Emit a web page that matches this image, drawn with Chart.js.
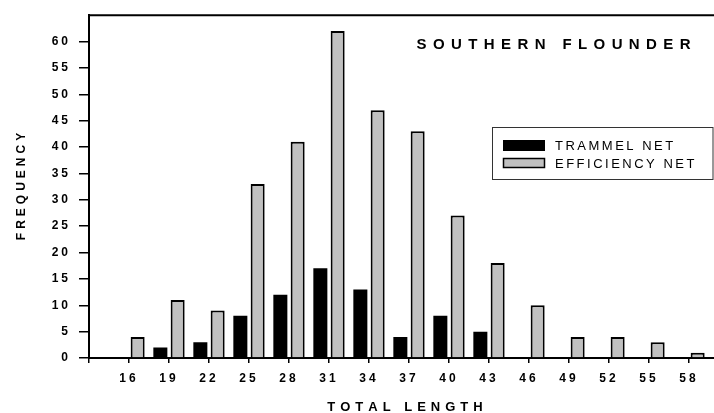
<!DOCTYPE html>
<html>
<head>
<meta charset="utf-8">
<title>Southern Flounder – length frequency</title>
<script src="https://cdn.jsdelivr.net/npm/chart.js@4.4.1/dist/chart.umd.min.js"></script>
<style>
  html, body { margin: 0; padding: 0; background: #fff; }
  #wrap { width: 714px; height: 413px; position: relative; }
</style>
</head>
<body>
<div id="wrap"><canvas id="chart" width="714" height="413"></canvas></div>
<script>
// Length classes (total length) and catch frequency per gear type
const lengthClasses = [16, 19, 22, 25, 28, 31, 34, 37, 40, 43, 46, 49, 52, 55, 58];
const trammelNet    = [null, 2, 3, 8, 12, 17, 13, 4, 8, 5, null, null, null, null, null];
const efficiencyNet = [4, 11, 9, 33, 41, 62, 47, 43, 27, 18, 10, 4, 4, 3, 1];

// Axis ticks
const xTickValues = [13, 16, 19, 22, 25, 28, 31, 34, 37, 40, 43, 46, 49, 52, 55, 58];
const yTickValues = [0, 5, 10, 15, 20, 25, 30, 35, 40, 45, 50, 55, 60];

// Text
const seriesNames = ['TRAMMEL NET', 'EFFICIENCY NET'];
const chartTitle = 'SOUTHERN FLOUNDER';
const xAxisTitle = 'TOTAL LENGTH';
const yAxisTitle = 'FREQUENCY';

const FONT = "'Liberation Sans', Arial, Helvetica, sans-serif";
Chart.defaults.font.family = FONT;
Chart.defaults.color = '#000';

// Draws text with extra space between the characters.
function spacedText(ctx, text, x, y, spacing, align) {
  const chars = [...text];
  const widths = chars.map(ch => ctx.measureText(ch).width);
  const total = widths.reduce((a, b) => a + b, 0) + spacing * (chars.length - 1);
  let cx = align === 'center' ? x - total / 2 : align === 'right' ? x - total : x;
  ctx.textAlign = 'left';
  chars.forEach((ch, i) => { ctx.fillText(ch, cx, y); cx += widths[i] + spacing; });
}

const decorations = {
  id: 'decorations',
  beforeDraw(chart) {
    // tick labels are letter-spaced
    chart.ctx.letterSpacing = '3px';
  },
  afterDraw(chart) {
    const ctx = chart.ctx;
    const a = chart.chartArea;
    ctx.save();
    ctx.letterSpacing = '0px';

    // top frame line of the plot box
    ctx.strokeStyle = '#000';
    ctx.lineWidth = 2;
    ctx.beginPath();
    ctx.moveTo(a.left - 1, a.top);
    ctx.lineTo(a.right, a.top);
    ctx.stroke();

    ctx.fillStyle = '#000';
    ctx.textBaseline = 'alphabetic';

    // title inside the plot
    ctx.font = 'bold 15px ' + FONT;
    spacedText(ctx, chartTitle, 416.5, 49, 6.4, 'left');

    // x axis title
    ctx.font = 'bold 13px ' + FONT;
    spacedText(ctx, xAxisTitle, 405, 411, 5, 'center');

    // y axis title
    ctx.save();
    ctx.translate(25, 186.5);
    ctx.rotate(-Math.PI / 2);
    ctx.font = 'bold 12px ' + FONT;
    spacedText(ctx, yAxisTitle, 0, 0, 4, 'center');
    ctx.restore();

    // legend
    ctx.strokeStyle = '#333';
    ctx.lineWidth = 1;
    ctx.strokeRect(492.5, 127.5, 220.5, 52);

    const ds = chart.data.datasets;
    ctx.fillStyle = ds[0].backgroundColor;
    ctx.fillRect(503, 140, 42, 11);

    ctx.fillStyle = ds[1].backgroundColor;
    ctx.fillRect(503.5, 158.5, 41, 9);
    ctx.strokeStyle = '#000';
    ctx.lineWidth = 1.5;
    ctx.strokeRect(503.5, 158.5, 41, 9);

    ctx.fillStyle = '#000';
    ctx.font = '13px ' + FONT;
    spacedText(ctx, ds[0].label, 555, 149.5, 2.5, 'left');
    spacedText(ctx, ds[1].label, 555, 168, 2.5, 'left');

    ctx.restore();
  }
};

const toPoints = values => lengthClasses.map((x, i) => ({ x: x, y: values[i] }));

new Chart(document.getElementById('chart').getContext('2d'), {
  type: 'bar',
  data: {
    datasets: [
      {
        label: seriesNames[0],
        data: toPoints(trammelNet),
        backgroundColor: '#000',
        borderColor: '#000',
        borderWidth: 0,
        categoryPercentage: 0.865,
        barPercentage: 0.81
      },
      {
        label: seriesNames[1],
        data: toPoints(efficiencyNet),
        backgroundColor: '#c0c0c0',
        borderColor: '#000',
        borderWidth: 2,
        categoryPercentage: 0.865,
        barPercentage: 0.81
      }
    ]
  },
  options: {
    responsive: false,
    animation: false,
    layout: { padding: { top: 15, left: 0, right: 0, bottom: 0 } },
    plugins: { legend: { display: false }, tooltip: { enabled: false }, title: { display: false } },
    scales: {
      x: {
        type: 'linear',
        min: 13,
        max: 59.875,
        offset: false,
        afterBuildTicks: s => { s.ticks = xTickValues.map(v => ({ value: v })); },
        afterFit: s => { s.height = 55; },
        ticks: {
          autoSkip: false,
          maxRotation: 0,
          padding: 8,
          color: '#000',
          font: { size: 12, weight: 'bold' },
          callback: v => (v === xTickValues[0] ? '' : String(v))
        },
        grid: { offset: false, drawOnChartArea: false, drawTicks: true, tickLength: 5, color: '#000', lineWidth: 1.5 },
        border: { display: true, color: '#000', width: 2 }
      },
      y: {
        min: 0,
        max: 65,
        afterBuildTicks: s => { s.ticks = yTickValues.map(v => ({ value: v })); },
        afterFit: s => { s.width = 89; },
        ticks: {
          padding: 8,
          color: '#000',
          font: { size: 12, weight: 'bold' },
          callback: v => String(v)
        },
        grid: { drawOnChartArea: false, drawTicks: true, tickLength: 10, color: '#000', lineWidth: 1.5 },
        border: { display: true, color: '#000', width: 2 }
      }
    }
  },
  plugins: [decorations]
});
</script>
</body>
</html>
